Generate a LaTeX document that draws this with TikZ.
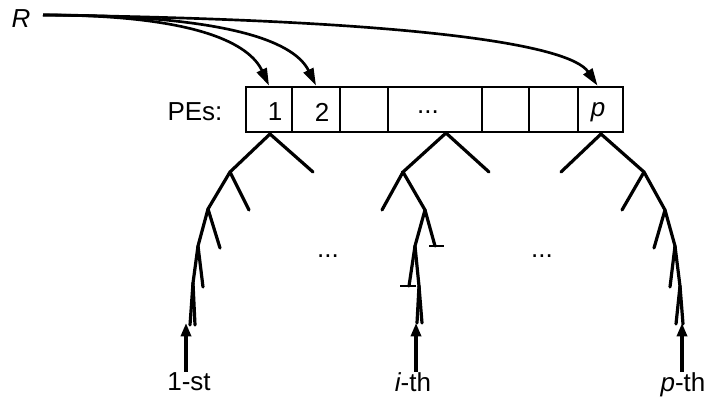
\documentclass[tikz,border=0pt]{standalone}
\usepackage{fontspec}
\setmainfont{Liberation Sans}
\usetikzlibrary{arrows.meta,calc}
\begin{document}
\begin{tikzpicture}[x=0.75pt,y=-0.75pt,
  txt/.style={inner sep=0pt,font=\fontsize{19.5}{22}\selectfont},
  cell/.style={draw,line width=2pt,minimum height=45*0.75pt,inner sep=0pt,anchor=center},
  branch/.style={line width=2.4pt,line cap=round},
  feed/.style={line width=2pt,-{Triangle[length=13pt,width=8pt]}},
  inarrow/.style={line width=2.4pt,-{Triangle[length=10pt,width=7.5pt]}},
  tbar/.style={line width=2.2pt}]
\useasboundingbox (0,0) rectangle (706,398);
% processor cells
\node[cell,minimum width=46*0.75pt] (c1) at (269,109.5) {};
\node[cell,minimum width=48*0.75pt] (c2) at (316,109.5) {};
\node[cell,minimum width=48*0.75pt] (c3) at (364,109.5) {};
\node[cell,minimum width=94*0.75pt] (c4) at (435,109.5) {};
\node[cell,minimum width=47*0.75pt] (c5) at (505.5,109.5) {};
\node[cell,minimum width=49*0.75pt] (c6) at (553.5,109.5) {};
\node[cell,minimum width=45*0.75pt] (c7) at (600.5,109.5) {};
\node[txt] (t1) at (275,112) {1};
\node[txt] (t2) at (322,112) {2};
\node[txt] (t4) at (428,112) {...};
\node[txt] (t7) at (598,112) {\itshape p};
\node[txt] (pes) at (195,112) {PEs:};
% R and feeds
\node[txt] (R) at (21,19) {\itshape R};
\coordinate (rs) at (43,15);
\draw[feed] (rs) .. controls (200,15) and (250,45) .. (c1.north);
\draw[feed] (rs) .. controls (240,15) and (296,45) .. (c2.north);
\draw[feed] (rs) .. controls (420,20) and (570,45) .. ($(c7.north)+(-3,0)$);
% tree 1
\coordinate (a0) at (270,134);
\coordinate (a1) at (230,172);
\coordinate (a1r) at (313,172);
\coordinate (a2) at (208,209);
\coordinate (a2r) at (249,210);
\coordinate (a3) at (198,246);
\coordinate (a3r) at (220,248);
\coordinate (a4) at (193,283);
\coordinate (a4r) at (203,287);
\coordinate (a5) at (190,325);
\coordinate (a5r) at (195,325);
\draw[branch] (a1r) -- (a0) -- (a1) -- (a2) -- (a3) -- (a4) -- (a5);
\draw[branch] (a1) -- (a2r);
\draw[branch] (a2) -- (a3r);
\draw[branch] (a3) -- (a4r);
\draw[branch] (a4) -- (a5r);
% tree i
\coordinate (b0) at (446,133);
\coordinate (b1) at (403,172);
\coordinate (b1r) at (489,172);
\coordinate (b2l) at (382,210);
\coordinate (b2) at (425,210);
\coordinate (b3) at (415,246);
\coordinate (b3r) at (435,246);
\coordinate (b4l) at (409,286);
\coordinate (b4) at (419,286);
\coordinate (b5l) at (417,323);
\coordinate (b5) at (422,323);
\draw[branch] (b1r) -- (b0) -- (b1) -- (b2) -- (b3) -- (b4) -- (b5);
\draw[branch] (b1) -- (b2l);
\draw[branch] (b2) -- (b3r);
\draw[branch] (b3) -- (b4l);
\draw[branch] (b4) -- (b5l);
\draw[tbar] ($(b3r)+(-6,0)$) -- ($(b3r)+(9,0)$);
\draw[tbar] ($(b4l)+(-9,0)$) -- ($(b4l)+(7,0)$);
% tree p
\coordinate (p0) at (601,134);
\coordinate (p1l) at (561,172);
\coordinate (p1) at (644,172);
\coordinate (p2l) at (622,210);
\coordinate (p2) at (665,210);
\coordinate (p3l) at (654,248);
\coordinate (p3) at (675,246);
\coordinate (p4l) at (670,287);
\coordinate (p4) at (680,286);
\coordinate (p5l) at (676,324);
\coordinate (p5) at (683,324);
\draw[branch] (p1l) -- (p0) -- (p1) -- (p2) -- (p3) -- (p4) -- (p5);
\draw[branch] (p1) -- (p2l);
\draw[branch] (p2) -- (p3l);
\draw[branch] (p3) -- (p4l);
\draw[branch] (p4) -- (p5l);
% middle dots
\node[txt] (d1) at (328,256) {...};
\node[txt] (d2) at (542,256) {...};
% inputs
\node[txt,anchor=north] (l1) at (189,372) {1-st};
\node[txt,anchor=north] (l2) at (413,372) {\itshape i\upshape -th};
\node[txt,anchor=north] (l3) at (683,372) {\itshape p\upshape -th};
\coordinate (i1) at (186,323);
\coordinate (i2) at (416,323);
\coordinate (i3) at (682,323);
\draw[inarrow] (i1 |- l1.north) -- (i1);
\draw[inarrow] (i2 |- l2.north) -- (i2);
\draw[inarrow] (i3 |- l3.north) -- (i3);
\end{tikzpicture}
\end{document}
